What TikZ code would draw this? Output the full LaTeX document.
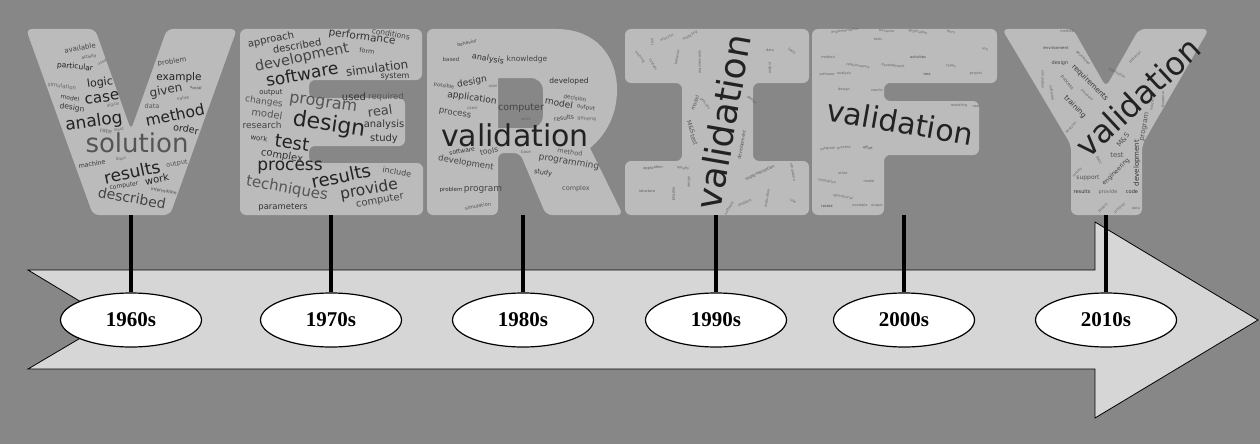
\documentclass[tikz,border=0pt]{standalone}
\usepackage{fontspec}
\usetikzlibrary{shapes.geometric}
\newfontfamily\cloudfont{DejaVu Sans}
\newfontfamily\yearfont{Liberation Serif}
\definecolor{bgc}{HTML}{878787}
\definecolor{letc}{HTML}{BBBBBB}
\definecolor{arrc}{HTML}{D6D6D6}
\definecolor{cA}{HTML}{222222}
\definecolor{cB}{HTML}{333333}
\definecolor{cC}{HTML}{444444}
\definecolor{cD}{HTML}{555555}
\definecolor{cE}{HTML}{666666}
\definecolor{cF}{HTML}{777777}
\newcounter{wcnt}
\newcommand\cw[6]{\stepcounter{wcnt}\node[cloudword,text=#5,rotate=#3,font=\cloudfont\fontsize{#4}{#4}\selectfont] (w\arabic{wcnt}) at (#1,#2) {#6};}
\tikzset{
  letter/.style={fill=letc, rounded corners=6pt},
  cloudword/.style={inner sep=0pt, anchor=center},
  yearbox/.style={ellipse, draw=black, line width=1.2pt, fill=white, minimum width=141pt, minimum height=54pt, inner sep=0pt, font=\yearfont\bfseries\fontsize{21}{21}\selectfont},
  stem/.style={line width=4pt, black},
  timearrow/.style={fill=arrc, draw=black, line width=0.8pt}
}
\begin{document}
\begin{tikzpicture}[x=1pt,y=-1pt]
\useasboundingbox (0,0) rectangle (1260,444);
\fill[bgc] (0,0) rectangle (1260,444);
% arrow
\draw[timearrow] (28,270) -- (1095,270) -- (1095,222) -- (1258,320) -- (1095,418) -- (1095,369) -- (28,369) -- (111,320) -- cycle;
% letters
\fill[letter] (26,29) -- (95,29) -- (131,130) -- (167,29) -- (237,29) -- (170,215) -- (93,215) -- cycle;
\fill[letter] (240,29) -- (422,29) -- (422,80) -- (309,80) -- (309,98) -- (405,98) -- (405,146) -- (309,146) -- (309,163) -- (423,163) -- (423,215) -- (240,215) -- cycle;
\fill[letc, even odd rule] [rounded corners=6pt] (427,29) -- (550,29) [sharp corners] .. controls (595,29) and (617,55) .. (617,90) .. controls (617,115) and (606,135) .. (590,148) [rounded corners=6pt] -- (623,215) -- (546,215) -- (520,153) -- (498,153) -- (498,215) -- (427,215) -- cycle
  [sharp corners] (498,78) -- (530,78) .. controls (538,78) and (543,83) .. (543,91) -- (543,115) .. controls (543,123) and (538,128) .. (530,128) -- (498,128) -- cycle;
\fill[letter] (625,29) -- (809,29) -- (809,83) -- (753,83) -- (753,161) -- (809,161) -- (809,215) -- (625,215) -- (625,161) -- (682,161) -- (682,83) -- (625,83) -- cycle;
\fill[letter] (812,29) -- (997,29) -- (997,83) -- (884,83) -- (884,101) -- (979,101) -- (979,155) -- (884,155) -- (884,215) -- (812,215) -- cycle;
\fill[letter] (1002,29) -- (1073,29) -- (1106,87) -- (1139,29) -- (1209,29) -- (1142,145) -- (1142,215) -- (1071,215) -- (1071,145) -- cycle;
% ---- V words
\cw{80}{48}{10}{7}{cC}{available}
\cw{89}{57}{10}{4}{cC}{activity}
\cw{102}{62}{25}{4}{cE}{used}
\cw{75}{67}{-6}{7.5}{cA}{particular}
\cw{62}{86}{-8}{5.5}{cE}{simulation}
\cw{100}{83}{8}{11}{cA}{logic}
\cw{70}{98}{-8}{6}{cB}{model}
\cw{102}{98}{8}{15}{cA}{case}
\cw{113}{105}{10}{4}{cE}{digital}
\cw{72}{108}{-8}{7.5}{cB}{design}
\cw{94}{122}{8}{17}{cA}{analog}
\cw{106}{131}{-5}{6}{cE}{rate}
\cw{119}{130}{10}{4}{cE}{input}
\cw{172}{62}{8}{7}{cC}{problem}
\cw{179}{78}{0}{10.5}{cA}{example}
\cw{166}{91}{10}{12}{cB}{given}
\cw{196}{88}{-5}{4}{cC}{social}
\cw{183}{98}{10}{4.5}{cE}{value}
\cw{152}{106}{0}{6.5}{cD}{data}
\cw{175}{115}{12}{15.5}{cA}{method}
\cw{186}{129}{-10}{9.5}{cA}{order}
\cw{137}{143}{0}{26}{cD}{solution}
\cw{92}{164}{10}{6.3}{cB}{machine}
\cw{121}{159}{10}{4}{cE}{dquo}
\cw{132}{172}{12}{17}{cA}{results}
\cw{177}{164}{10}{6.5}{cD}{output}
\cw{124}{186}{8}{6}{cB}{computer}
\cw{157}{179}{12}{10}{cA}{work}
\cw{164}{191}{-10}{4.5}{cC}{information}
\cw{132}{198}{-10}{14}{cC}{described}
% ---- E words
\cw{271}{40}{12}{10}{cB}{approach}
\cw{297}{46}{10}{10}{cB}{described}
\cw{362}{37}{-8}{10.5}{cB}{performance}
\cw{391}{34}{-10}{7.5}{cC}{conditions}
\cw{302}{58}{12}{14.5}{cC}{development}
\cw{367}{51}{-8}{6.5}{cC}{form}
\cw{302}{74}{10}{17}{cA}{software}
\cw{377}{68}{8}{12}{cB}{simulation}
\cw{395}{77}{0}{8}{cB}{system}
\cw{271}{93}{0}{7}{cB}{output}
\cw{264}{102}{-8}{9}{cD}{changes}
\cw{323}{104}{-8}{16}{cD}{program}
\cw{354}{97}{0}{10}{cB}{used}
\cw{386}{97}{0}{8.5}{cD}{required}
\cw{267}{114}{-8}{10}{cD}{model}
\cw{380}{111}{8}{13}{cC}{real}
\cw{262}{125}{0}{9}{cC}{research}
\cw{329}{125}{-8}{22}{cA}{design}
\cw{384}{125}{0}{10}{cB}{analysis}
\cw{259}{138}{-8}{7}{cB}{work}
\cw{292}{143}{-8}{18}{cA}{test}
\cw{384}{139}{0}{10}{cB}{study}
\cw{282}{156}{-10}{10}{cB}{complex}
\cw{290}{168}{0}{17}{cA}{process}
\cw{397}{172}{-10}{8}{cC}{include}
\cw{341}{176}{12}{18}{cA}{results}
\cw{287}{189}{-10}{15}{cD}{techniques}
\cw{369}{190}{10}{15.5}{cB}{provide}
\cw{380}{201}{10}{10}{cC}{computer}
\cw{283}{207}{0}{8.5}{cB}{parameters}
% ---- R words
\cw{467}{43}{12}{4.5}{cC}{behavior}
\cw{451}{59}{0}{5.5}{cC}{based}
\cw{488}{59}{-10}{8}{cB}{analysis}
\cw{527}{59}{0}{7.5}{cC}{knowledge}
\cw{472}{82}{10}{9}{cB}{design}
\cw{444}{86}{-10}{5}{cC}{possible}
\cw{493}{86}{0}{4}{cE}{user}
\cw{569}{81}{0}{7.5}{cB}{developed}
\cw{472}{98}{-8}{9}{cB}{application}
\cw{575}{98}{-10}{5.5}{cC}{decision}
\cw{559}{103}{-10}{9}{cB}{model}
\cw{472}{108}{0}{4}{cE}{used}
\cw{521}{108}{0}{9.5}{cC}{computer}
\cw{586}{108}{-10}{5.5}{cC}{output}
\cw{455}{114}{-10}{8.5}{cC}{process}
\cw{526}{119}{0}{4}{cE}{work}
\cw{564}{118}{10}{6}{cC}{results}
\cw{587}{119}{-5}{5}{cE}{general}
\cw{515}{135}{0}{30}{cA}{validation}
\cw{462}{151}{10}{6}{cB}{software}
\cw{489}{151}{10}{7.5}{cC}{tools}
\cw{526}{152}{0}{4}{cE}{base}
\cw{466}{163}{-10}{8.5}{cC}{development}
\cw{570}{152}{-8}{6.5}{cD}{method}
\cw{569}{162}{-10}{9}{cC}{programming}
\cw{543}{173}{-10}{6.5}{cB}{study}
\cw{451}{190}{0}{5.5}{cB}{problem}
\cw{483}{190}{0}{9}{cC}{program}
\cw{576}{189}{0}{6.5}{cD}{complex}
\cw{478}{206}{10}{5}{cD}{simulation}
% ---- I words
\cw{723}{122}{80}{36}{cA}{validation}
\cw{640}{57}{-50}{3.5}{cE}{training}
\cw{652}{42}{90}{3.5}{cE}{tool}
\cw{667}{38}{25}{3.5}{cE}{analysis}
\cw{677}{57}{80}{3.5}{cE}{behavior}
\cw{700}{62}{90}{3.5}{cE}{requirements}
\cw{690}{36}{30}{3.5}{cE}{modeling}
\cw{653}{65}{-60}{3.5}{cE}{system}
\cw{770}{50}{0}{3.5}{cE}{data}
\cw{792}{51}{-40}{3.5}{cE}{tests}
\cw{770}{68}{90}{3.5}{cE}{output}
\cw{695}{103}{70}{5}{cD}{model}
\cw{705}{104}{-50}{3.5}{cE}{process}
\cw{691}{127}{-70}{6}{cD}{M\&S}
\cw{694}{140}{-70}{6}{cD}{test}
\cw{742}{145}{80}{4.5}{cD}{development}
\cw{752}{100}{-40}{3.5}{cE}{design}
\cw{653}{168}{5}{3.5}{cD}{application}
\cw{683}{168}{-10}{3.5}{cD}{results}
\cw{760}{173}{25}{4}{cD}{implementation}
\cw{647}{191}{0}{3.5}{cD}{structure}
\cw{674}{194}{-90}{3.5}{cD}{method}
\cw{689}{182}{90}{3.5}{cE}{design}
\cw{793}{172}{-80}{3.5}{cE}{simulation}
\cw{767}{198}{80}{3.5}{cE}{evaluation}
\cw{745}{203}{25}{3.5}{cE}{problem}
\cw{793}{201}{-30}{3.5}{cE}{use}
\cw{729}{208}{60}{3.5}{cE}{software}
% ---- F words
\cw{900}{122}{-10}{30}{cA}{validation}
\cw{845}{31}{8}{3.5}{cE}{implementation}
\cw{878}{39}{0}{3.5}{cE}{tools}
\cw{887}{31}{-5}{3.5}{cE}{behavior}
\cw{918}{32}{-10}{3.5}{cE}{application}
\cw{951}{32}{-10}{3.5}{cE}{form}
\cw{985}{49}{-10}{3.5}{cE}{use}
\cw{828}{57}{0}{3.5}{cE}{method}
\cw{918}{57}{0}{3.5}{cC}{activities}
\cw{858}{66}{-8}{3.5}{cE}{requirements}
\cw{893}{66}{-5}{3.5}{cE}{development}
\cw{951}{66}{-10}{3.5}{cE}{types}
\cw{827}{74}{0}{3.5}{cE}{software}
\cw{844}{74}{0}{3.5}{cE}{analysis}
\cw{927}{74}{0}{3.5}{cC}{test}
\cw{976}{74}{0}{3.5}{cE}{project}
\cw{844}{90}{0}{3.5}{cE}{design}
\cw{877}{90}{0}{3.5}{cE}{results}
\cw{959}{106}{0}{3.5}{cE}{modeling}
\cw{976}{106}{0}{3.5}{cE}{real}
\cw{828}{149}{5}{3.5}{cE}{program}
\cw{844}{148}{5}{3.5}{cE}{process}
\cw{868}{148}{-10}{3.5}{cC}{effort}
\cw{843}{173}{0}{3.5}{cE}{other}
\cw{827}{181}{-10}{3.5}{cE}{simulation}
\cw{869}{181}{0}{3.5}{cE}{model}
\cw{843}{197}{-10}{3.5}{cE}{operational}
\cw{827}{206}{0}{3.5}{cC}{tested}
\cw{860}{206}{0}{3.5}{cE}{example}
\cw{877}{206}{0}{3.5}{cE}{output}
% ---- Y words
\cw{1138}{97}{43}{32}{cA}{validation}
\cw{1090}{83}{-45}{7.2}{cB}{requirements}
\cw{1075}{107}{-45}{7.2}{cB}{training}
\cw{1067}{31}{0}{3.5}{cE}{method}
\cw{1056}{48}{0}{4}{cC}{environment}
\cw{1060}{63}{0}{5}{cC}{design}
\cw{1083}{58}{-45}{3.5}{cE}{developed}
\cw{1067}{83}{-50}{4.5}{cD}{process}
\cw{1087}{95}{-45}{3.5}{cE}{standard}
\cw{1043}{80}{-90}{3.5}{cE}{simulation}
\cw{1052}{93}{-80}{3.5}{cE}{software}
\cw{1071}{128}{45}{3.5}{cE}{analysis}
\cw{1117}{73}{-30}{3.5}{cE}{application}
\cw{1135}{57}{45}{3.5}{cE}{behavior}
\cw{1152}{105}{80}{3.5}{cE}{model}
\cw{1163}{100}{-90}{3.5}{cE}{modeling}
\cw{1123}{140}{50}{7}{cD}{M\&S}
\cw{1145}{127}{80}{7}{cD}{program}
\cw{1117}{155}{0}{7}{cD}{test}
\cw{1099}{160}{-60}{4}{cE}{tool}
\cw{1137}{163}{90}{7}{cB}{development}
\cw{1116}{172}{45}{6}{cC}{engineering}
\cw{1077}{172}{45}{3.5}{cE}{results}
\cw{1088}{178}{0}{6}{cD}{support}
\cw{1082}{192}{0}{5}{cB}{results}
\cw{1108}{192}{0}{5}{cE}{provide}
\cw{1132}{192}{0}{5}{cB}{code}
\cw{1103}{208}{45}{3.5}{cE}{project}
\cw{1120}{208}{40}{3.5}{cE}{product}
\cw{1136}{208}{0}{3.5}{cE}{data}
% ---- stems and years
\coordinate (bV) at (131,215);
\coordinate (bE) at (331,215);
\coordinate (bR) at (523,215);
\coordinate (bI) at (716,215);
\coordinate (bF) at (904,215);
\coordinate (bY) at (1106,215);
\node[yearbox] (y1960) at (131,320) {1960s};
\node[yearbox] (y1970) at (331,320) {1970s};
\node[yearbox] (y1980) at (523,320) {1980s};
\node[yearbox] (y1990) at (716,320) {1990s};
\node[yearbox] (y2000) at (904,320) {2000s};
\node[yearbox] (y2010) at (1106,320) {2010s};
\draw[stem] (bV) -- (y1960.north);
\draw[stem] (bE) -- (y1970.north);
\draw[stem] (bR) -- (y1980.north);
\draw[stem] (bI) -- (y1990.north);
\draw[stem] (bF) -- (y2000.north);
\draw[stem] (bY) -- (y2010.north);
\end{tikzpicture}
\end{document}
